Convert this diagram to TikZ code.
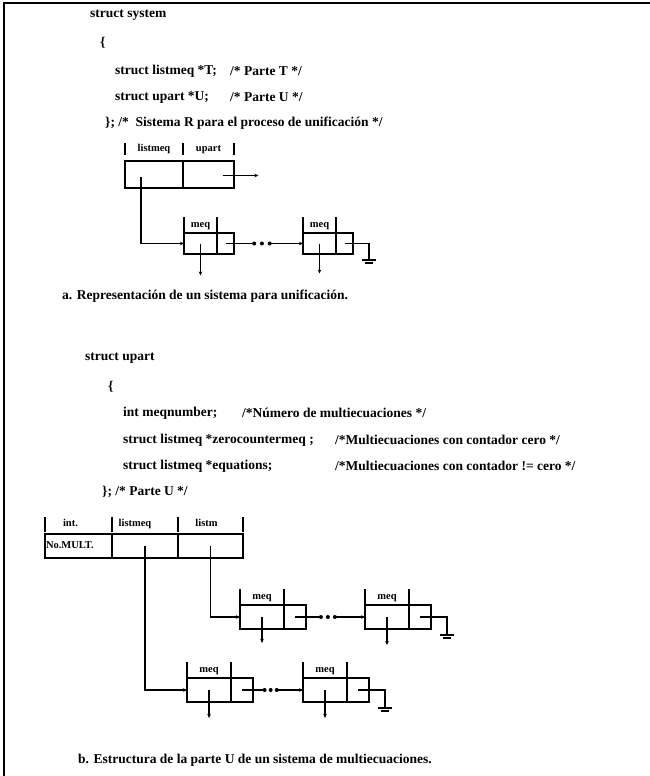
\documentclass[tikz,border=0pt]{standalone}
\usepackage{fontspec}
\setmainfont{Liberation Serif}
\usetikzlibrary{arrows.meta,positioning,calc}

% one "meq" record: name, north west corner, size (a/b), length of the down arrow
\newcommand{\meqrec}[4]{%
  \node[cell,meq#3L,anchor=north west] (#1l) at (#2) {};
  \node[cell,meq#3R,right=0pt of #1l] (#1r) {};
  \draw[sepbar] (#1l.north west) -- ++(0,-16);
  \draw[sepbar] (#1l.north east) -- ++(0,-16);
  \node[lbl,above=3pt of #1l] {meq};
  \draw[arr] (#1l.center) -- ++(0,#4);}
% dotted link from one record to the next
\newcommand{\dotlink}[2]{%
  \path (#1r.center) -- (#2l.west) node[ptdot,pos=.37]{} node[ptdot,pos=.47]{} node[ptdot,pos=.57]{};
  \draw[wire] (#1r.center) -- ($(#1r.center)!.37!(#2l.west)$);
  \draw[arr] ($(#1r.center)!.57!(#2l.west)$) -- (#2l.west);}
% end of list
\newcommand{\nilend}[1]{%
  \draw[wire] (#1r.center) -| ($(#1r.south east)+(16,6)$) coordinate (#1g);
  \draw[wire] ($(#1g)+(-7,0)$) -- ++(14,0);
  \draw[wire] ($(#1g)+(-4,3)$) -- ++(8,0);}

\begin{document}
\begin{tikzpicture}[x=1pt,y=-1pt,
  cell/.style={draw,line width=1.4pt,inner sep=0pt,outer sep=0pt},
  meqaL/.style={minimum width=33pt,minimum height=21pt},
  meqaR/.style={minimum width=17pt,minimum height=21pt},
  meqbL/.style={minimum width=44pt,minimum height=24pt},
  meqbR/.style={minimum width=22pt,minimum height=24pt},
  sepbar/.style={line width=1.2pt},
  wire/.style={line width=1.1pt},
  arr/.style={wire,-{Stealth[length=4pt,width=3.5pt]}},
  ptdot/.style={circle,fill,inner sep=0pt,minimum size=4pt},
  lbl/.style={font=\fontsize{10.5}{12}\selectfont\bfseries,inner sep=0pt,text height=7pt,text depth=2pt},
  txt/.style={anchor=west,inner sep=0pt,font=\fontsize{13.5}{16}\selectfont\bfseries}]
\useasboundingbox (0,0) rectangle (650,776);
\draw[line width=1.5pt] (650,3) -- (4,3) -- (4,776);
% struct system
\node[txt] (sysHead) at (90,15) {struct system};
\node[txt] (sysOpen) at (100,43) {\{};
\node[txt] (sysT) at (115,71) {struct listmeq *T;};
\node[txt] (sysTc) at (230,71) {/* Parte T */};
\node[txt] (sysU) at (115,97) {struct upart *U;};
\node[txt] (sysUc) at (230,97) {/* Parte U */};
\node[txt] (sysClose) at (105,123) {\}; /* \ Sistema R para el proceso de unificación */};
% record of the system
\node[cell,minimum width=58pt,minimum height=27pt,anchor=north west] (recT) at (125,161) {};
\node[cell,minimum width=51pt,minimum height=27pt,right=0pt of recT] (recU) {};
\foreach \c in {recT.north west,recT.north east,recU.north east}
  \draw[sepbar] ($(\c)+(0,-6)$) -- ++(0,-12);
\node[lbl,above=7pt of recT] {listmeq};
\node[lbl,above=7pt of recU] {upart};
\draw[arr] ($(recU.center)+(14,1)$) -- ++(36,0);
\meqrec{ma1}{184,233}{a}{32}
\meqrec{ma2}{303,233}{a}{30}
\draw[arr] ($(recT.center)+(-13,2)$) |- (ma1l.west);
\dotlink{ma1}{ma2}
\nilend{ma2}
\node[txt] (capA) at (62,296) {a. Representación de un sistema para unificación.};
% struct upart
\node[txt] (upHead) at (85,358) {struct upart};
\node[txt] (upOpen) at (108,387) {\{};
\node[txt] (upNum) at (123,413) {int meqnumber;};
\node[txt] (upNumc) at (242,413) {/*Número de multiecuaciones */};
\node[txt] (upZero) at (123,440) {struct listmeq *zerocountermeq ;};
\node[txt] (upZeroc) at (335,440) {/*Multiecuaciones con contador cero */};
\node[txt] (upEq) at (123,466) {struct listmeq *equations;};
\node[txt] (upEqc) at (335,466) {/*Multiecuaciones con contador != cero */};
\node[txt] (upClose) at (102,492) {\}; /* Parte U */};
% record of part U
\node[cell,lbl,minimum height=24pt,inner xsep=1pt,text width=65pt,align=left,anchor=north west] (nMult) at (45,534) {No.MULT.};
\node[cell,minimum width=66pt,minimum height=24pt,right=0pt of nMult] (zCnt) {};
\node[cell,minimum width=65pt,minimum height=24pt,right=0pt of zCnt] (eqs) {};
\foreach \c in {nMult.north west,nMult.north east,zCnt.north east,eqs.north east}
  \draw[sepbar] ($(\c)+(0,-2)$) -- ++(0,-15);
\node[lbl,above=5pt of nMult,xshift=-8pt] {int.};
\node[lbl,above=5pt of zCnt,xshift=-10pt] {listmeq};
\node[lbl,above=5pt of eqs,xshift=-4pt] {listm};
\meqrec{mu1}{240,605}{b}{26}
\meqrec{mu2}{365,605}{b}{28}
\dotlink{mu1}{mu2}
\nilend{mu2}
\meqrec{ml1}{187,678}{b}{28}
\meqrec{ml2}{303,678}{b}{28}
\dotlink{ml1}{ml2}
\nilend{ml2}
\draw[arr] (eqs.center) |- (mu1l.west);
\draw[arr] (zCnt.center) |- (ml1l.west);
\node[txt] (capB) at (78,760) {b. Estructura de la parte U de un sistema de multiecuaciones.};
\end{tikzpicture}
\end{document}
